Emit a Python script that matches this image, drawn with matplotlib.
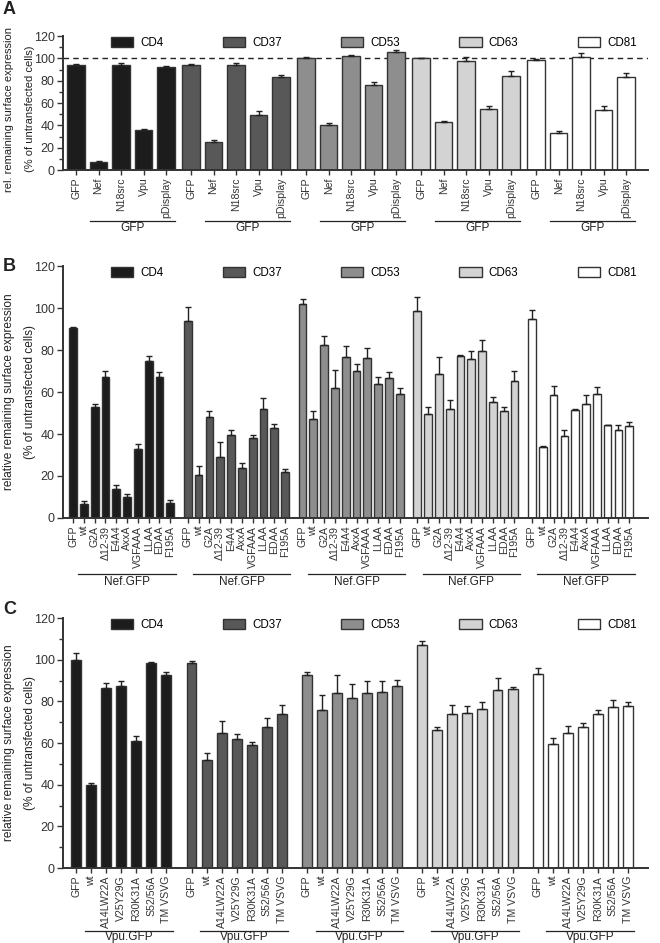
import matplotlib
matplotlib.use("Agg")
import matplotlib.pyplot as plt
from matplotlib.patches import Patch
from matplotlib.transforms import blended_transform_factory
from matplotlib.ticker import MultipleLocator
import numpy as np

plt.rcParams['font.family'] = ['Liberation Sans', 'DejaVu Sans']

# ---------------- data ----------------
markers = ["CD4", "CD37", "CD53", "CD63", "CD81"]
colors = ["#1c1c1c", "#585858", "#8e8e8e", "#d3d3d3", "#ffffff"]

# Panel A
labels_a = ["GFP", "Nef", "N18src", "Vpu", "pDisplay"]
vals_a_cd4 = [94, 7, 94, 36, 92]
vals_a_cd37 = [94, 25, 94, 49.5, 83]
vals_a_cd53 = [100, 40, 102, 76, 105.5]
vals_a_cd63 = [100, 43, 98, 55, 84.5]
vals_a_cd81 = [98.5, 33, 101.5, 54, 83.5]
err_a_cd4 = [1, 1, 2, 0.5, 1.5]
err_a_cd37 = [0.5, 2, 2, 3, 2.5]
err_a_cd53 = [0.8, 2, 0.8, 3, 2]
err_a_cd63 = [0.3, 0.5, 3, 2, 4.5]
err_a_cd81 = [0.8, 2, 3, 3, 3]
group_a = "GFP"

# Panel B
labels_b = ["GFP", "wt", "G2A", "\u039412-39", "E4A4", "AxxA", "VGFAAA", "LLAA", "EDAA", "F195A"]
vals_b_cd4 = [90.5, 6.5, 53, 67, 14, 10, 33, 75, 67, 7]
vals_b_cd37 = [94, 20.3, 48, 29, 39.5, 23.6, 38, 52, 42.7, 21.7]
vals_b_cd53 = [102, 47, 82.5, 61.7, 76.5, 69.8, 76.3, 63.8, 66.7, 59.2]
vals_b_cd63 = [98.6, 49.5, 68.4, 52, 77, 75.9, 79.4, 55.2, 51.1, 65.4]
vals_b_cd81 = [95, 33.7, 58.7, 39, 51.3, 54.3, 59.2, 44.3, 42.1, 44]
err_b_cd4 = [0.3, 1.5, 1.5, 3, 1.7, 1.4, 2.3, 2, 2.5, 1.8]
err_b_cd37 = [6.5, 4.3, 3, 7.3, 2.2, 2.6, 1.5, 5, 1.9, 1.6]
err_b_cd53 = [2.3, 3.8, 4, 9, 5.2, 3.7, 4.5, 3.2, 2.8, 2.5]
err_b_cd63 = [6.6, 3.4, 8.1, 4.2, 0.8, 3.8, 5.2, 2.6, 1.9, 4.4]
err_b_cd81 = [4, 0.6, 4, 2.8, 0.4, 4.1, 3, 0.2, 2.3, 1.6]
group_b = "Nef.GFP"

# Panel C
labels_c = ["GFP", "wt", "A14LW22A", "V25Y29G", "R30K31A", "S52/56A", "TM VSVG"]
vals_c_cd4 = [99.7, 39.7, 86.6, 87.5, 61, 98.4, 92.5]
vals_c_cd37 = [98.4, 51.7, 64.8, 61.9, 59, 67.8, 73.9]
vals_c_cd53 = [92.6, 76, 84, 81.8, 83.8, 84.3, 87.2]
vals_c_cd63 = [107, 66.4, 74, 74.4, 76.5, 85.3, 85.9]
vals_c_cd81 = [93, 59.4, 64.8, 67.7, 73.8, 77.1, 77.8]
err_c_cd4 = [3.5, 1.3, 2, 2.1, 2.2, 0.6, 1.7]
err_c_cd37 = [0.8, 3.3, 5.9, 2.6, 1.3, 4, 4.3]
err_c_cd53 = [1.6, 6.9, 8.8, 6.4, 6.1, 5.6, 3.2]
err_c_cd63 = [1.8, 1.1, 4.2, 3.5, 3, 6.1, 0.8]
err_c_cd81 = [3, 2.8, 3.5, 2.1, 2.2, 3.7, 2]
group_c = "Vpu.GFP"

TXT = "#222222"
EDGE = "#333333"

fig = plt.figure(figsize=(6.6, 9.43), dpi=100)


def panel(rect, labels, vals, errs, group, period, width, xlim, minor,
          ylab1, legend_y, line_y, text_y, half, ylab_size, ylab_shift=0.0,
          dashed=False, letter="", letter_y=0.0):
    ax = fig.add_axes(rect)
    n = len(labels)
    all_pos, all_lab = [], []
    tr = blended_transform_factory(ax.transData, ax.transAxes)
    for g in range(len(markers)):
        pos = g * period + np.arange(n)
        ax.bar(pos, vals[g], width=width, color=colors[g], edgecolor=EDGE,
               linewidth=1.0, zorder=2)
        ax.errorbar(pos, vals[g], yerr=[np.zeros(n), errs[g]], fmt='none',
                    ecolor=TXT, elinewidth=1.0, capsize=2.2, capthick=1.0, zorder=3)
        all_pos.extend(pos)
        all_lab.extend(labels)
        ax.plot([pos[1] - half, pos[-1] + half], [line_y, line_y], color=TXT,
                lw=0.9, transform=tr, clip_on=False)
        ax.text((pos[1] + pos[-1]) / 2, text_y, group, transform=tr, ha='center',
                va='center', fontsize=8.5, color=TXT)
    ax.set_xticks(all_pos)
    ax.set_xticklabels(all_lab, rotation=90, fontsize=7.6, color="#333333")
    ax.set_xlim(*xlim)
    ax.set_ylim(0, 120)
    ax.yaxis.set_major_locator(MultipleLocator(20))
    if minor:
        ax.yaxis.set_minor_locator(MultipleLocator(10))
        ax.tick_params(axis='y', which='minor', length=3, width=1.0, color=EDGE)
    ax.tick_params(axis='y', which='major', labelsize=9, labelcolor="#333333",
                   length=4, width=1.0, color=EDGE, pad=2)
    ax.tick_params(axis='x', length=3.5, width=1.0, color=EDGE, pad=2)
    for s in ['top', 'right']:
        ax.spines[s].set_visible(False)
    for s in ['left', 'bottom']:
        ax.spines[s].set_color(EDGE)
        ax.spines[s].set_linewidth(1.4)
    if dashed:
        ax.axhline(100, color=TXT, lw=1.0, ls=(0, (4, 3)), zorder=1)
    handles = [Patch(facecolor=colors[g], edgecolor=EDGE, linewidth=1.0,
                     label=markers[g]) for g in range(len(markers))]
    ax.legend(handles=handles, ncol=5, loc='center left',
              bbox_to_anchor=(0.082, legend_y), frameon=False, fontsize=8.4,
              handlelength=1.9, handleheight=0.95, handletextpad=0.6,
              columnspacing=5.1, borderpad=0, borderaxespad=0)
    # y labels (two lines)
    b = ax.get_position()
    yc = b.y0 + b.height / 2 + ylab_shift
    fig.text(9 / 660, yc, ylab1, rotation=90, ha='center', va='center',
             fontsize=ylab_size, color=TXT)
    fig.text(30 / 660, yc, "(% of untransfected cells)", rotation=90, ha='center',
             va='center', fontsize=ylab_size, color=TXT)
    fig.text(3 / 660, letter_y, letter, fontsize=13, fontweight='bold',
             ha='left', va='top', color=TXT)
    return ax


panel([0.0955, 0.8197, 0.886, 0.1421], labels_a,
      [vals_a_cd4, vals_a_cd37, vals_a_cd53, vals_a_cd63, vals_a_cd81],
      [err_a_cd4, err_a_cd37, err_a_cd53, err_a_cd63, err_a_cd81],
      group_a, 5.11, 0.78, (-0.58, 25.4), True,
      "rel. remaining surface expression", 0.948, -0.38, -0.435, 0.38,
      8.0, ylab_shift=-6 / 943, dashed=True, letter="A", letter_y=1 - 1 / 943)

panel([0.0955, 0.4507, 0.886, 0.2672], labels_b,
      [vals_b_cd4, vals_b_cd37, vals_b_cd53, vals_b_cd63, vals_b_cd81],
      [err_b_cd4, err_b_cd37, err_b_cd53, err_b_cd63, err_b_cd81],
      group_b, 10.62, 0.72, (-0.93, 53.2), False,
      "relative remaining surface expression", 0.972, -0.222, -0.256, 0.5,
      8.6, letter="B", letter_y=1 - 258 / 943)

panel([0.0955, 0.0795, 0.886, 0.2651], labels_c,
      [vals_c_cd4, vals_c_cd37, vals_c_cd53, vals_c_cd63, vals_c_cd81],
      [err_c_cd4, err_c_cd37, err_c_cd53, err_c_cd63, err_c_cd81],
      group_c, 7.67, 0.66, (-0.87, 38.0), True,
      "relative remaining surface expression", 0.972, -0.25, -0.274, 0.42,
      8.6, letter="C", letter_y=1 - 601 / 943)

fig.savefig("out.png", dpi=100)
